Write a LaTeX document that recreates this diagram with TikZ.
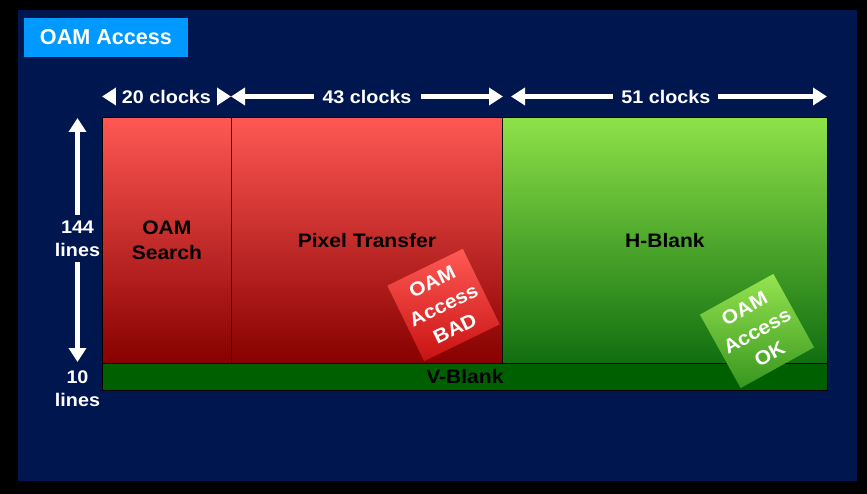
\documentclass[tikz,border=0pt]{standalone}
\usepackage{fontspec}
\setmainfont{Liberation Sans}
\newfontfamily\labfam[FakeStretch=1.08]{Liberation Sans}
\usetikzlibrary{arrows.meta}
\definecolor{navybg}{RGB}{0,22,78}
\definecolor{titleblue}{RGB}{0,153,255}
\definecolor{redtop}{RGB}{255,88,84}
\definecolor{redbot}{RGB}{135,0,0}
\definecolor{greentop}{RGB}{142,226,72}
\definecolor{greenbot}{RGB}{16,110,16}
\definecolor{vgreen}{RGB}{0,96,0}
\definecolor{badtop}{RGB}{255,90,85}
\definecolor{badbot}{RGB}{200,18,18}
\definecolor{oktop}{RGB}{150,228,80}
\definecolor{okbot}{RGB}{55,150,30}
\newcommand{\labfont}{\labfam\bfseries\fontsize{19.5}{25}\selectfont}
\newcommand{\dimfont}{\labfam\bfseries\fontsize{18.3}{23}\selectfont}
\tikzset{
  blockbox/.style={draw=black, line width=0.8pt, inner sep=0pt, anchor=north west,
    font=\labfont, text=black, align=center},
  redblock/.style={blockbox, top color=redtop, bottom color=redbot},
  greenblock/.style={blockbox, top color=greentop, bottom color=greenbot},
  wlab/.style={font=\dimfont, text=white, align=center},
  gaplab/.style={wlab, fill=navybg, inner ysep=2pt},
  arrline/.style={draw=white, line width=5pt},
  tipped/.style={arrline, {Triangle[length=14pt,width=17pt]}-{Triangle[length=14pt,width=17pt]}},
  tiltbox/.style={minimum width=84pt, minimum height=84pt, inner sep=0pt,
    font=\labfam\bfseries\fontsize{19.5}{26}\selectfont, text=white, align=center}
}
\begin{document}
\begin{tikzpicture}[x=1pt,y=-1pt]
\useasboundingbox (0,0) rectangle (867,494);
\fill[black] (0,0) rectangle (867,494);
\fill[navybg] (18,10) rectangle (857,481);
% title
\node[fill=titleblue, minimum width=164pt, minimum height=39pt, inner sep=0pt,
  font=\bfseries\fontsize{21.6}{26}\selectfont, text=white] (title) at (106,37.5) {OAM Access};
% blocks
\node[redblock, minimum width=129pt, minimum height=246pt] (search) at (102,117) {OAM\\Search};
\node[redblock, minimum width=271pt, minimum height=246pt] (pixel) at (231,117) {Pixel Transfer};
\node[greenblock, minimum width=325pt, minimum height=246pt] (hblank) at (502,117) {H-Blank};
\node[blockbox, fill=vgreen, minimum width=725pt, minimum height=27pt] (vblank) at (102,363) {V-Blank};
% tilted boxes
\node[tiltbox, rotate=26, top color=badtop, bottom color=badbot] (bad) at (443.5,305) {OAM\\Access\\BAD};
\node[tiltbox, rotate=29, top color=oktop, bottom color=okbot] (ok) at (757,331) {OAM\\Access\\OK};
% top dimension arrows
\coordinate (a0) at (102,96.5);
\coordinate (a1) at (231,96.5);
\coordinate (a2) at (503,96.5);
\coordinate (b0) at (511,96.5);
\coordinate (b1) at (827,96.5);
\draw[tipped] (a0) -- (a1);
\node[gaplab, inner xsep=6pt] (c20) at (166.5,96.5) {20 clocks};
\draw[tipped] (a1) -- (a2) node[midway, gaplab, inner xsep=9pt] (c43) {43 clocks};
\draw[tipped] (b0) -- (b1) node[pos=0.49, gaplab, inner xsep=8pt] (c51) {51 clocks};
% left dimension arrow
\coordinate (v0) at (77.5,118);
\coordinate (v1) at (77.5,362);
\draw[tipped] (v0) -- (v1);
\node[wlab, fill=navybg, inner xsep=2pt, inner ysep=6pt] (l144) at (77.5,238.5) {144\\lines};
\node[wlab] (l10) at (77.5,388.5) {10\\lines};
\end{tikzpicture}
\end{document}
